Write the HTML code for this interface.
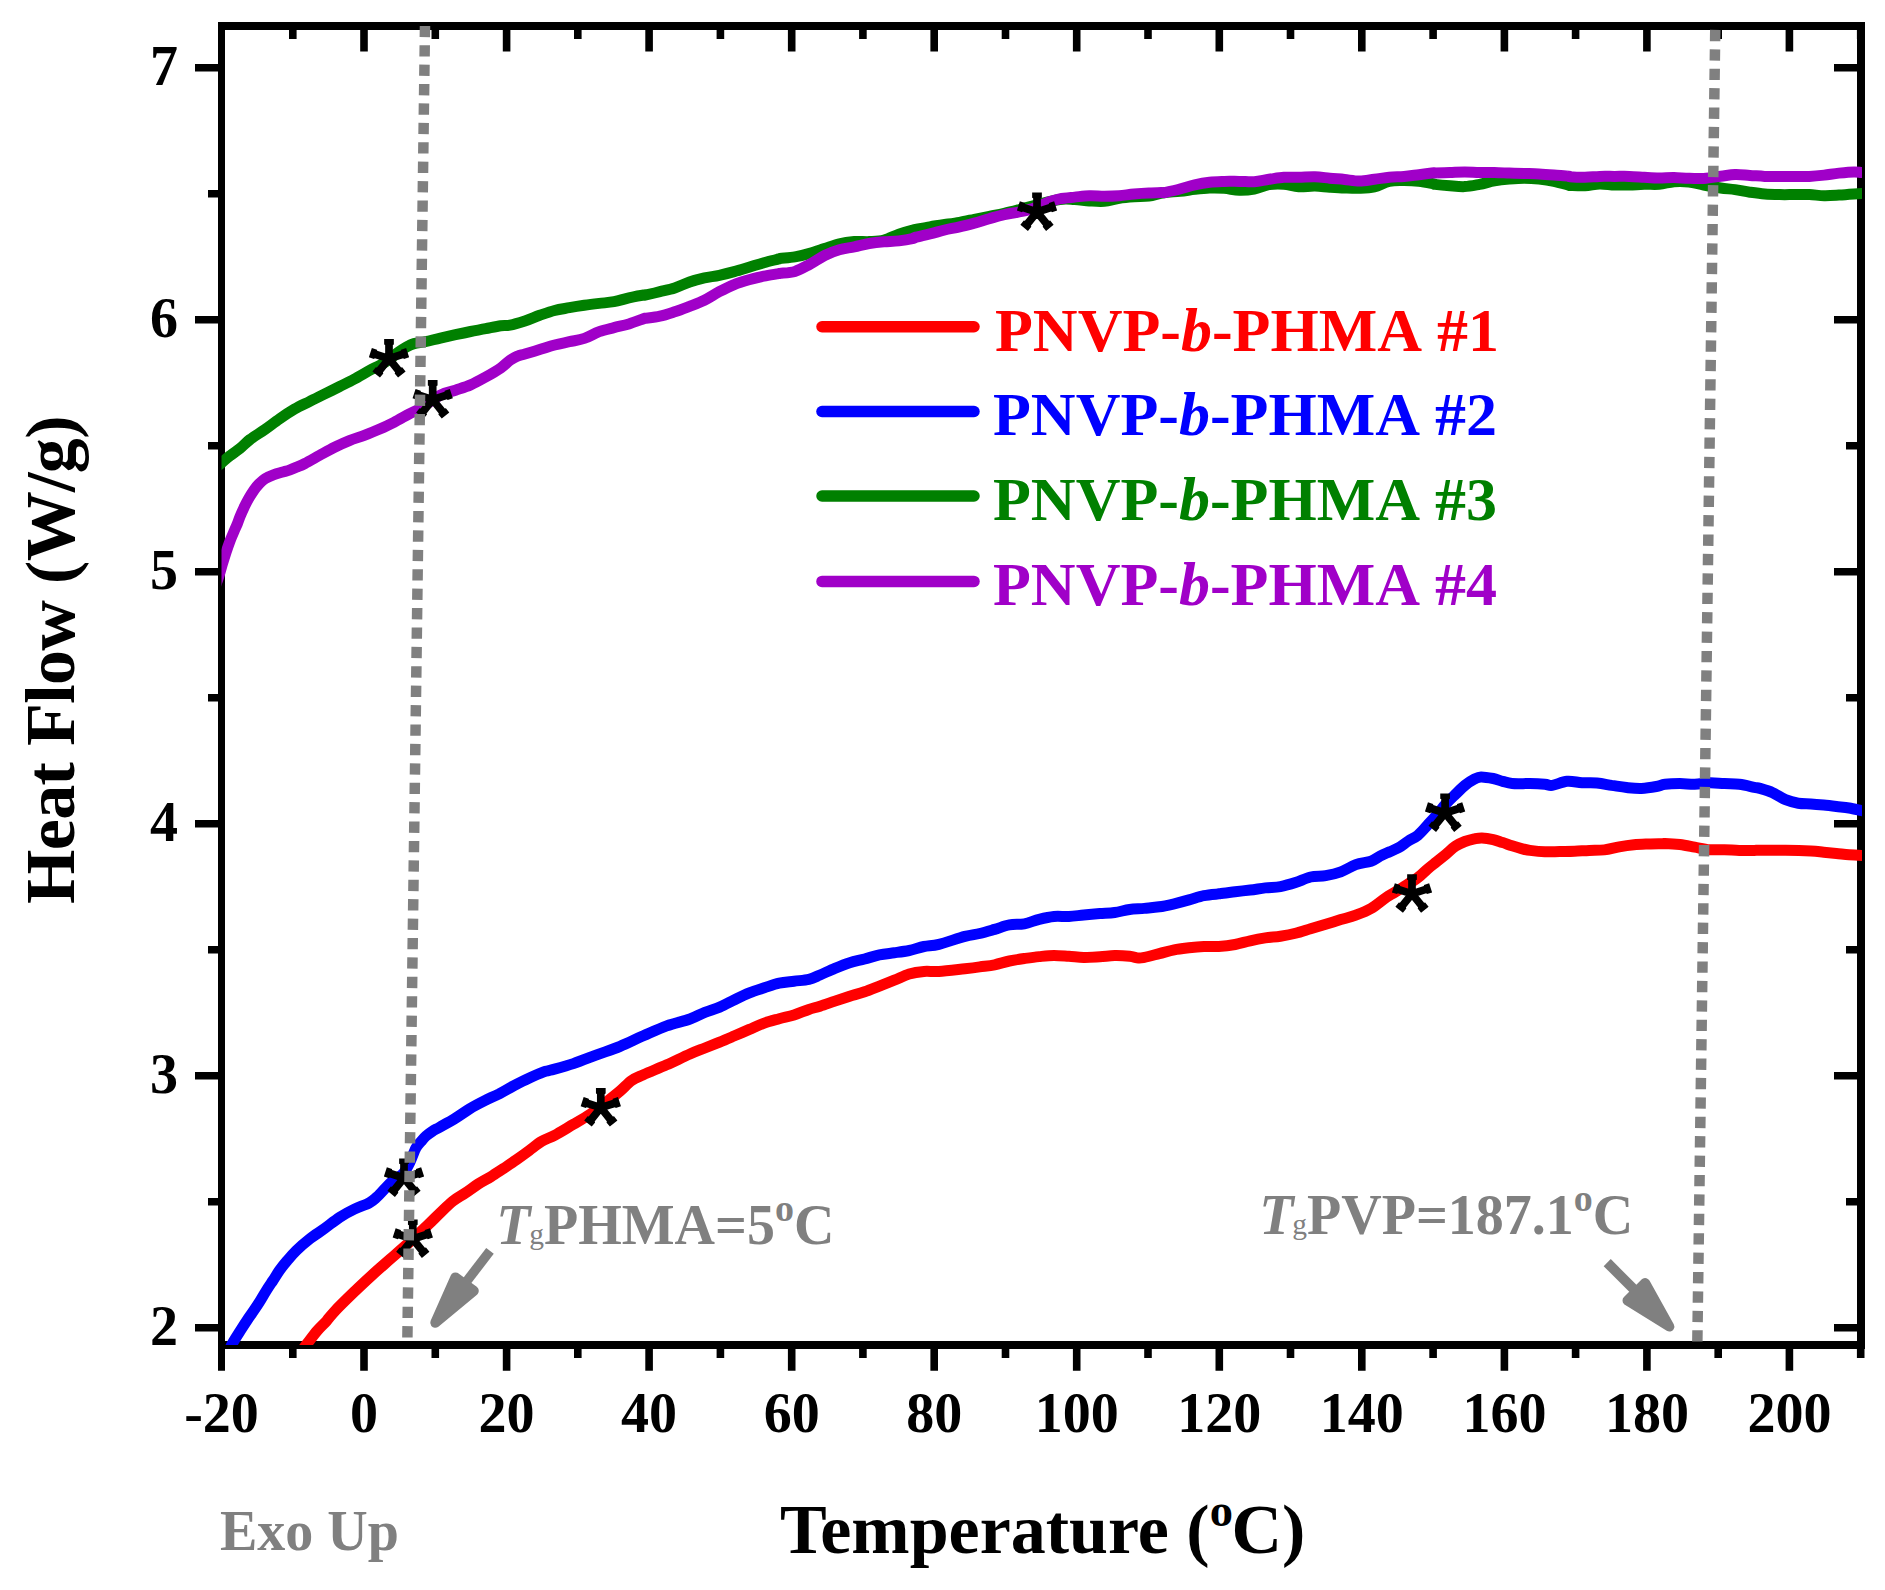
<!DOCTYPE html>
<html><head><meta charset="utf-8"><title>DSC Heat Flow</title>
<style>html,body{margin:0;padding:0;background:#fff;overflow:hidden}svg{display:block}</style>
</head><body>
<svg xmlns="http://www.w3.org/2000/svg" width="1885" height="1590" viewBox="0 0 1885 1590">
<rect width="1885" height="1590" fill="#fff"/>
<defs><clipPath id="pc"><rect x="221.5" y="26" width="1640.5" height="1319"/></clipPath></defs>
<path d="M292.8 1349 V1358.0 M292.8 30 V39.0 M364.0 1349 V1370.7 M364.0 30 V51.6 M435.3 1349 V1358.0 M435.3 30 V39.0 M506.6 1349 V1370.7 M506.6 30 V51.6 M577.8 1349 V1358.0 M577.8 30 V39.0 M649.1 1349 V1370.7 M649.1 30 V51.6 M720.4 1349 V1358.0 M720.4 30 V39.0 M791.7 1349 V1370.7 M791.7 30 V51.6 M862.9 1349 V1358.0 M862.9 30 V39.0 M934.2 1349 V1370.7 M934.2 30 V51.6 M1005.5 1349 V1358.0 M1005.5 30 V39.0 M1076.7 1349 V1370.7 M1076.7 30 V51.6 M1148.0 1349 V1358.0 M1148.0 30 V39.0 M1219.3 1349 V1370.7 M1219.3 30 V51.6 M1290.5 1349 V1358.0 M1290.5 30 V39.0 M1361.8 1349 V1370.7 M1361.8 30 V51.6 M1433.1 1349 V1358.0 M1433.1 30 V39.0 M1504.4 1349 V1370.7 M1504.4 30 V51.6 M1575.6 1349 V1358.0 M1575.6 30 V39.0 M1646.9 1349 V1370.7 M1646.9 30 V51.6 M1718.2 1349 V1358.0 M1718.2 30 V39.0 M1789.4 1349 V1370.7 M1789.4 30 V51.6 M1860.7 1349 V1358.0 M1860.7 30 V39.0 M218.0 1327.8 H195.0 M1857 1327.8 H1834.0 M218.0 1201.8 H208.0 M1857 1201.8 H1846.0 M218.0 1075.8 H195.0 M1857 1075.8 H1834.0 M218.0 949.8 H208.0 M1857 949.8 H1846.0 M218.0 823.8 H195.0 M1857 823.8 H1834.0 M218.0 697.8 H208.0 M1857 697.8 H1846.0 M218.0 571.8 H195.0 M1857 571.8 H1834.0 M218.0 445.8 H208.0 M1857 445.8 H1846.0 M218.0 319.8 H195.0 M1857 319.8 H1834.0 M218.0 193.8 H208.0 M1857 193.8 H1846.0 M218.0 67.8 H195.0 M1857 67.8 H1834.0" stroke="#000" stroke-width="7.6" fill="none"/>
<path d="M221.5 22 V1370.7" stroke="#000" stroke-width="7"/>
<path d="M1861 22 V1349" stroke="#000" stroke-width="8"/>
<path d="M218 26 H1865 M218 1345 H1865" stroke="#000" stroke-width="8"/>
<g clip-path="url(#pc)">
<path d="M297.5 1356.0 C298.9 1354.2 302.8 1349.2 306.1 1345.0 C309.4 1340.8 313.7 1334.9 317.1 1330.9 C320.5 1326.9 323.7 1324.2 326.7 1320.8 C329.7 1317.4 330.5 1315.7 335.2 1310.7 C339.9 1305.7 349.0 1296.9 355.1 1291.0 C361.2 1285.1 366.3 1280.4 372.1 1275.1 C377.9 1269.8 384.1 1264.5 390.1 1259.2 C396.2 1253.9 402.2 1248.8 408.4 1243.2 C414.6 1237.6 422.0 1230.5 427.3 1225.5 C432.6 1220.5 435.9 1217.0 440.1 1213.0 C444.3 1209.0 448.5 1204.5 452.7 1201.2 C456.9 1197.9 461.2 1195.8 465.5 1192.9 C469.8 1190.0 474.0 1186.7 478.2 1184.0 C482.4 1181.3 486.6 1179.3 490.9 1176.7 C495.1 1174.1 499.4 1171.2 503.7 1168.4 C507.9 1165.6 512.2 1162.8 516.4 1159.8 C520.6 1156.8 524.9 1153.7 529.1 1150.6 C533.3 1147.5 537.5 1143.8 541.8 1141.3 C546.0 1138.8 549.3 1138.1 554.6 1135.3 C559.9 1132.5 567.4 1127.8 573.4 1124.3 C579.4 1120.8 585.0 1117.7 590.5 1114.0 C596.0 1110.3 601.5 1105.8 606.4 1102.0 C611.3 1098.2 615.9 1094.6 620.1 1091.0 C624.3 1087.4 627.8 1083.2 631.7 1080.5 C635.6 1077.8 637.6 1077.3 643.4 1074.7 C649.2 1072.1 658.9 1068.2 666.7 1064.8 C674.5 1061.3 683.6 1056.8 690.0 1054.0 C696.4 1051.2 699.9 1050.0 704.9 1048.0 C709.9 1046.0 714.8 1044.1 719.7 1042.1 C724.7 1040.1 729.7 1037.9 734.6 1035.8 C739.5 1033.7 744.5 1031.5 749.4 1029.4 C754.3 1027.3 759.3 1024.9 764.3 1023.1 C769.3 1021.3 774.2 1020.1 779.2 1018.7 C784.2 1017.3 789.0 1016.5 794.0 1014.9 C799.0 1013.3 804.6 1010.8 808.9 1009.4 C813.2 1008.0 815.7 1007.6 820.0 1006.2 C824.3 1004.8 829.9 1002.8 834.9 1001.1 C839.9 999.4 844.8 997.8 849.7 996.2 C854.7 994.7 859.7 993.5 864.6 991.8 C869.5 990.1 874.5 988.0 879.4 986.1 C884.3 984.2 889.3 982.2 894.3 980.2 C899.3 978.2 904.2 975.4 909.2 973.9 C914.2 972.4 919.0 971.8 924.0 971.4 C929.0 971.0 932.1 971.8 938.9 971.4 C945.7 971.0 958.1 969.5 964.9 968.8 C971.7 968.0 974.8 967.6 979.7 966.9 C984.7 966.2 989.7 965.8 994.6 964.8 C999.5 963.8 1004.5 962.0 1009.4 961.0 C1014.3 960.0 1019.3 959.2 1024.3 958.5 C1029.3 957.8 1034.2 957.1 1039.2 956.6 C1044.2 956.1 1049.0 955.5 1054.0 955.5 C1059.0 955.5 1064.0 956.0 1068.9 956.3 C1073.9 956.6 1078.5 957.3 1083.7 957.4 C1088.9 957.5 1094.7 957.0 1099.9 956.7 C1105.1 956.4 1109.8 955.7 1114.7 955.6 C1119.7 955.5 1125.6 955.9 1129.6 956.3 C1133.6 956.7 1136.0 957.8 1138.5 958.0 C1141.0 958.2 1140.9 958.1 1144.4 957.4 C1147.9 956.7 1154.3 954.9 1159.3 953.6 C1164.3 952.4 1169.2 950.9 1174.2 949.9 C1179.2 948.9 1184.0 948.4 1189.0 947.8 C1194.0 947.2 1199.0 946.7 1203.9 946.5 C1208.9 946.3 1213.5 946.8 1218.7 946.5 C1223.9 946.2 1229.8 945.5 1235.1 944.5 C1240.3 943.5 1245.2 941.9 1250.2 940.8 C1255.2 939.7 1260.3 938.7 1265.3 937.9 C1270.3 937.1 1275.4 937.0 1280.4 936.2 C1285.4 935.4 1290.5 934.5 1295.5 933.2 C1300.5 932.0 1305.6 930.2 1310.6 928.7 C1315.6 927.2 1320.7 925.7 1325.7 924.2 C1330.7 922.7 1335.8 921.1 1340.8 919.6 C1345.8 918.1 1350.8 917.0 1355.8 915.1 C1360.8 913.2 1365.8 911.4 1371.0 908.4 C1376.2 905.4 1381.6 900.5 1386.9 897.0 C1392.2 893.5 1397.7 890.6 1402.8 887.4 C1407.9 884.2 1413.6 880.8 1417.7 877.8 C1421.8 874.8 1424.1 872.0 1427.2 869.3 C1430.3 866.6 1433.5 864.3 1436.6 861.8 C1439.7 859.3 1442.8 856.8 1446.0 854.2 C1449.2 851.6 1452.3 848.3 1455.5 846.2 C1458.7 844.1 1461.8 842.7 1464.9 841.5 C1468.0 840.3 1471.5 839.5 1474.3 838.9 C1477.1 838.3 1478.8 837.8 1481.9 837.9 C1485.1 838.0 1489.8 838.8 1493.2 839.6 C1496.7 840.4 1499.4 841.6 1502.6 842.6 C1505.8 843.6 1508.9 844.8 1512.1 845.8 C1515.2 846.8 1518.5 847.8 1521.5 848.6 C1524.5 849.4 1526.1 849.9 1530.0 850.4 C1533.9 850.9 1540.0 851.6 1544.9 851.8 C1549.9 852.0 1554.8 851.6 1559.7 851.5 C1564.7 851.4 1569.6 851.4 1574.6 851.2 C1579.5 851.0 1584.5 850.6 1589.4 850.4 C1594.4 850.2 1599.3 850.5 1604.3 849.9 C1609.3 849.3 1614.2 847.8 1619.2 846.9 C1624.2 846.0 1629.0 845.3 1634.0 844.8 C1639.0 844.3 1644.0 844.2 1648.9 844.0 C1653.9 843.8 1661.0 843.8 1663.7 843.7 C1666.4 843.6 1662.3 843.3 1665.0 843.4 C1667.7 843.5 1675.0 843.9 1679.9 844.5 C1684.9 845.1 1689.8 846.2 1694.7 847.1 C1699.7 848.0 1704.6 849.3 1709.6 849.7 C1714.5 850.1 1719.5 849.6 1724.4 849.7 C1729.4 849.8 1734.3 850.3 1739.3 850.4 C1744.3 850.5 1750.8 850.4 1754.2 850.4 C1757.7 850.4 1754.8 850.3 1760.0 850.3 C1765.2 850.3 1777.0 850.2 1785.5 850.3 C1794.0 850.4 1804.5 850.7 1810.9 851.0 C1817.3 851.3 1819.5 851.8 1823.7 852.2 C1828.0 852.6 1832.2 853.1 1836.4 853.5 C1840.6 853.9 1844.9 854.5 1849.1 854.8 C1853.3 855.1 1858.8 855.3 1861.8 855.4 C1864.8 855.5 1866.1 855.6 1867.0 855.6" fill="none" stroke="#FF0000" stroke-width="11" stroke-linejoin="round"/>
<path d="M224.0 1362.0 C225.3 1359.2 228.9 1350.2 231.6 1345.0 C234.3 1339.8 237.7 1334.9 240.2 1330.9 C242.7 1326.9 244.4 1324.2 246.7 1320.8 C248.9 1317.4 251.4 1314.0 253.7 1310.7 C256.0 1307.4 258.2 1304.1 260.3 1300.7 C262.4 1297.3 264.2 1293.9 266.3 1290.6 C268.4 1287.2 270.7 1283.9 272.9 1280.6 C275.1 1277.2 277.0 1273.9 279.4 1270.5 C281.8 1267.1 284.5 1263.8 287.4 1260.4 C290.2 1257.1 292.8 1254.0 296.5 1250.4 C300.2 1246.8 305.2 1242.5 309.9 1238.8 C314.6 1235.1 319.8 1232.0 324.7 1228.4 C329.6 1224.8 334.7 1220.5 339.6 1217.3 C344.6 1214.1 349.4 1211.5 354.4 1209.1 C359.3 1206.7 365.6 1204.8 369.3 1202.8 C373.0 1200.8 374.2 1199.4 376.7 1197.2 C379.2 1195.0 381.7 1191.9 384.2 1189.4 C386.7 1186.9 389.3 1184.0 391.6 1182.0 C393.9 1180.0 395.9 1179.1 398.0 1177.5 C400.1 1175.9 402.0 1175.1 404.0 1172.5 C406.0 1169.9 408.0 1166.1 410.0 1162.0 C412.0 1157.9 414.1 1151.4 415.9 1148.0 C417.7 1144.6 419.3 1143.5 421.0 1141.5 C422.7 1139.5 424.1 1137.7 426.0 1136.0 C427.9 1134.3 430.0 1132.8 432.3 1131.3 C434.6 1129.8 436.0 1129.3 439.7 1127.2 C443.4 1125.1 449.7 1121.7 454.6 1118.7 C459.6 1115.7 464.4 1112.0 469.4 1109.0 C474.3 1106.0 479.3 1103.4 484.3 1100.9 C489.3 1098.4 494.2 1096.3 499.2 1093.8 C504.1 1091.2 509.1 1088.2 514.0 1085.6 C519.0 1083.0 523.9 1080.5 528.9 1078.2 C533.9 1075.9 540.2 1073.2 543.7 1071.9 C547.2 1070.6 545.0 1071.7 550.0 1070.3 C555.0 1068.9 565.6 1066.2 573.4 1063.6 C581.2 1061.0 588.9 1057.8 596.7 1054.9 C604.5 1052.0 612.3 1049.5 620.1 1046.3 C627.9 1043.1 635.6 1039.2 643.4 1035.8 C651.2 1032.4 658.9 1028.7 666.7 1025.9 C674.5 1023.1 683.6 1021.3 690.0 1019.0 C696.4 1016.7 699.9 1014.3 704.9 1012.3 C709.9 1010.3 714.8 1009.2 719.7 1007.1 C724.7 1005.0 729.7 1002.1 734.6 999.7 C739.5 997.3 744.5 994.8 749.4 992.8 C754.3 990.8 759.3 989.4 764.3 987.8 C769.3 986.2 774.2 984.3 779.2 983.2 C784.2 982.1 789.0 981.9 794.0 981.3 C799.0 980.6 804.6 980.3 808.9 979.3 C813.2 978.2 815.7 976.8 820.0 975.0 C824.3 973.2 829.9 970.3 834.9 968.3 C839.9 966.2 844.8 964.2 849.7 962.7 C854.7 961.2 859.7 960.3 864.6 959.0 C869.5 957.7 874.5 955.9 879.4 954.9 C884.3 953.9 889.3 953.5 894.3 952.8 C899.3 952.1 904.2 951.5 909.2 950.5 C914.2 949.5 919.0 947.5 924.0 946.5 C929.0 945.5 932.1 946.0 938.9 944.3 C945.7 942.6 958.1 938.2 964.9 936.4 C971.7 934.6 974.8 934.7 979.7 933.5 C984.7 932.3 989.7 930.8 994.6 929.4 C999.5 928.0 1004.5 925.8 1009.4 924.9 C1014.3 924.0 1019.3 924.7 1024.3 923.8 C1029.3 922.9 1034.2 920.5 1039.2 919.3 C1044.2 918.1 1049.0 917.0 1054.0 916.5 C1059.0 916.0 1064.0 916.8 1068.9 916.5 C1073.9 916.2 1078.5 915.5 1083.7 915.0 C1088.9 914.5 1094.7 914.0 1099.9 913.6 C1105.1 913.2 1109.8 913.2 1114.7 912.5 C1119.7 911.8 1124.6 910.2 1129.6 909.5 C1134.5 908.8 1139.5 908.9 1144.4 908.4 C1149.4 907.9 1154.3 907.6 1159.3 906.8 C1164.3 906.0 1169.2 904.9 1174.2 903.8 C1179.2 902.6 1184.0 901.3 1189.0 899.9 C1194.0 898.5 1199.0 896.6 1203.9 895.6 C1208.9 894.6 1216.0 894.2 1218.7 893.9 C1221.4 893.6 1217.3 894.0 1220.0 893.6 C1222.7 893.2 1230.1 892.4 1235.1 891.8 C1240.1 891.2 1245.2 890.6 1250.2 890.0 C1255.2 889.4 1260.3 888.5 1265.3 887.9 C1270.3 887.3 1275.4 887.5 1280.4 886.6 C1285.4 885.7 1290.5 884.2 1295.5 882.6 C1300.5 881.0 1305.6 878.2 1310.6 877.0 C1315.6 875.8 1320.7 876.5 1325.7 875.6 C1330.7 874.7 1335.8 873.6 1340.8 871.8 C1345.8 870.0 1350.8 866.5 1355.8 864.7 C1360.8 862.9 1367.0 862.6 1371.0 861.2 C1375.0 859.8 1376.9 857.7 1380.0 856.1 C1383.1 854.5 1386.2 853.3 1389.4 851.9 C1392.6 850.5 1395.8 849.4 1398.9 847.6 C1402.1 845.8 1405.2 843.0 1408.3 841.0 C1411.4 839.0 1414.5 838.0 1417.7 835.4 C1420.9 832.8 1424.1 828.9 1427.2 825.5 C1430.3 822.1 1433.5 818.7 1436.6 815.1 C1439.7 811.5 1442.8 807.3 1446.0 803.8 C1449.2 800.3 1452.3 797.4 1455.5 794.3 C1458.7 791.2 1461.8 787.9 1464.9 785.4 C1468.0 782.9 1471.6 780.6 1474.3 779.2 C1477.0 777.8 1477.8 777.0 1481.0 776.9 C1484.2 776.8 1489.6 777.8 1493.2 778.5 C1496.8 779.2 1499.4 780.5 1502.6 781.3 C1505.8 782.1 1507.5 783.1 1512.1 783.5 C1516.7 783.9 1524.5 783.5 1530.0 783.6 C1535.5 783.7 1541.2 784.0 1544.9 784.3 C1548.6 784.6 1548.6 785.9 1552.3 785.4 C1556.0 784.9 1562.1 781.8 1567.1 781.3 C1572.0 780.8 1577.0 782.4 1582.0 782.7 C1587.0 783.0 1592.0 782.5 1596.9 783.0 C1601.9 783.5 1606.8 784.6 1611.7 785.4 C1616.7 786.1 1621.6 787.0 1626.6 787.5 C1631.5 788.0 1636.5 788.6 1641.4 788.4 C1646.4 788.2 1652.4 787.2 1656.3 786.5 C1660.2 785.8 1661.1 784.8 1665.0 784.3 C1668.9 783.8 1675.0 783.6 1679.9 783.6 C1684.9 783.6 1689.8 784.4 1694.7 784.3 C1699.7 784.2 1704.6 782.9 1709.6 782.8 C1714.5 782.7 1719.5 783.4 1724.4 783.6 C1729.4 783.9 1734.3 783.7 1739.3 784.3 C1744.3 784.9 1750.8 786.6 1754.2 787.3 C1757.7 788.0 1756.9 787.5 1760.0 788.4 C1763.1 789.3 1768.5 790.8 1772.7 792.7 C1777.0 794.6 1781.2 798.0 1785.5 799.7 C1789.8 801.5 1794.0 802.5 1798.2 803.2 C1802.4 803.9 1806.7 803.7 1810.9 804.0 C1815.2 804.3 1819.5 804.7 1823.7 805.1 C1828.0 805.5 1832.2 806.0 1836.4 806.5 C1840.6 807.0 1844.9 807.3 1849.1 808.0 C1853.3 808.7 1858.8 810.0 1861.8 810.6 C1864.8 811.2 1866.1 811.4 1867.0 811.5" fill="none" stroke="#0000FF" stroke-width="11" stroke-linejoin="round"/>
<path d="M215.0 468.0 C216.1 467.2 218.8 465.1 221.3 463.0 C223.8 460.9 226.9 458.1 230.1 455.7 C233.2 453.2 236.9 451.0 240.2 448.3 C243.5 445.6 245.9 442.6 250.0 439.5 C254.1 436.4 259.9 433.0 264.9 429.5 C269.8 426.0 274.8 422.1 279.7 418.7 C284.6 415.3 289.7 412.0 294.6 409.1 C299.6 406.2 304.4 404.1 309.4 401.6 C314.3 399.1 319.3 396.7 324.3 394.2 C329.3 391.7 334.2 389.3 339.2 386.8 C344.1 384.3 349.1 382.0 354.0 379.3 C358.9 376.6 364.6 373.2 368.9 370.8 C373.2 368.4 376.5 367.2 380.0 365.2 C383.5 363.2 387.0 361.1 390.0 359.0 C393.0 356.9 395.3 354.5 398.0 352.5 C400.7 350.5 403.7 348.5 406.4 347.0 C409.1 345.5 410.9 344.5 414.0 343.6 C417.1 342.7 420.9 342.5 425.3 341.6 C429.7 340.7 435.4 339.2 440.4 338.1 C445.4 337.0 450.5 335.8 455.5 334.7 C460.5 333.6 465.6 332.5 470.6 331.5 C475.6 330.5 480.7 329.7 485.7 328.7 C490.7 327.7 496.8 326.3 500.8 325.7 C504.9 325.1 506.0 325.9 510.0 325.1 C514.0 324.3 519.9 322.5 524.9 320.9 C529.9 319.3 534.8 317.0 539.7 315.3 C544.7 313.6 549.7 311.8 554.6 310.5 C559.5 309.2 564.5 308.6 569.4 307.7 C574.3 306.8 579.3 306.0 584.3 305.3 C589.3 304.6 594.2 304.0 599.2 303.4 C604.2 302.8 609.0 302.6 614.0 301.7 C619.0 300.8 623.9 299.0 628.9 297.9 C633.9 296.8 641.0 295.4 643.7 295.0 C646.4 294.6 642.3 295.8 645.0 295.2 C647.7 294.6 654.9 292.9 659.9 291.7 C664.9 290.5 669.8 289.6 674.7 288.0 C679.7 286.4 684.7 283.7 689.6 282.0 C694.5 280.3 699.5 279.0 704.4 277.9 C709.3 276.8 714.3 276.4 719.3 275.3 C724.3 274.2 729.2 273.0 734.2 271.6 C739.2 270.2 744.0 268.7 749.0 267.2 C754.0 265.7 758.9 264.1 763.9 262.7 C768.9 261.3 776.0 259.7 778.7 259.0 C781.4 258.3 777.3 258.9 780.0 258.5 C782.7 258.1 789.9 257.8 794.9 256.9 C799.9 256.0 804.8 254.8 809.7 253.4 C814.7 252.0 819.7 250.2 824.6 248.6 C829.5 247.0 834.5 245.0 839.4 243.8 C844.3 242.6 849.3 242.0 854.3 241.6 C859.3 241.2 864.2 241.8 869.2 241.6 C874.2 241.3 879.0 241.3 884.0 240.1 C889.0 238.8 893.9 235.8 898.9 234.1 C903.9 232.4 911.0 230.4 913.7 229.7 C916.4 229.0 912.3 230.2 915.0 229.7 C917.7 229.2 924.9 227.7 929.9 226.8 C934.9 225.9 939.8 225.2 944.7 224.5 C949.7 223.8 954.7 223.2 959.6 222.3 C964.5 221.4 969.5 220.3 974.4 219.3 C979.3 218.3 984.3 217.4 989.3 216.4 C994.3 215.4 999.2 214.5 1004.2 213.4 C1009.2 212.3 1013.7 211.1 1019.0 209.7 C1024.3 208.3 1029.2 206.7 1036.0 205.0 C1042.8 203.3 1053.3 200.4 1059.7 199.5 C1066.1 198.6 1069.6 199.3 1074.6 199.5 C1079.5 199.7 1084.5 200.6 1089.4 200.9 C1094.4 201.2 1099.3 201.7 1104.3 201.3 C1109.3 200.9 1114.2 199.1 1119.2 198.3 C1124.2 197.6 1129.0 197.2 1134.0 196.8 C1139.0 196.4 1144.0 196.8 1148.9 196.1 C1153.9 195.4 1158.5 193.6 1163.7 192.8 C1168.9 192.0 1174.7 191.9 1179.9 191.3 C1185.1 190.7 1189.8 190.0 1194.7 189.4 C1199.7 188.8 1204.6 188.2 1209.6 188.0 C1214.5 187.8 1219.5 187.9 1224.4 188.3 C1229.4 188.7 1234.3 190.1 1239.3 190.2 C1244.3 190.3 1249.2 190.0 1254.2 189.1 C1259.2 188.2 1264.0 185.4 1269.0 184.6 C1274.0 183.8 1279.0 183.8 1283.9 184.2 C1288.9 184.6 1293.5 186.5 1298.7 186.8 C1303.9 187.1 1309.7 186.0 1314.9 186.1 C1320.1 186.2 1324.8 186.9 1329.7 187.2 C1334.7 187.5 1339.6 187.8 1344.6 188.0 C1349.5 188.2 1354.5 188.5 1359.4 188.3 C1364.4 188.1 1369.3 188.0 1374.3 186.8 C1379.3 185.6 1384.2 182.4 1389.2 181.3 C1394.2 180.2 1399.0 180.5 1404.0 180.5 C1409.0 180.5 1414.0 180.7 1418.9 181.3 C1423.9 181.9 1431.0 183.4 1433.7 183.9 C1436.4 184.4 1432.3 184.1 1435.0 184.4 C1437.7 184.7 1445.0 185.4 1449.9 185.8 C1454.9 186.2 1459.8 186.8 1464.7 186.6 C1469.7 186.4 1474.6 185.3 1479.6 184.4 C1484.5 183.5 1489.5 181.8 1494.4 180.9 C1499.4 180.0 1504.3 179.5 1509.3 179.1 C1514.3 178.7 1519.2 178.3 1524.2 178.3 C1529.2 178.3 1534.0 178.6 1539.0 179.1 C1544.0 179.6 1549.0 180.3 1553.9 181.3 C1558.9 182.3 1566.0 184.3 1568.7 185.0 C1571.4 185.7 1567.3 185.3 1570.0 185.4 C1572.7 185.5 1580.0 186.1 1584.9 185.8 C1589.9 185.6 1594.8 184.0 1599.7 183.9 C1604.7 183.8 1609.6 184.8 1614.6 185.0 C1619.5 185.2 1624.5 185.1 1629.4 185.0 C1634.4 184.9 1639.3 184.4 1644.3 184.3 C1649.3 184.2 1654.2 184.7 1659.2 184.3 C1664.2 183.9 1669.0 182.1 1674.0 181.7 C1679.0 181.3 1684.0 181.4 1688.9 182.0 C1693.9 182.6 1698.4 184.0 1703.7 185.0 C1709.0 186.0 1715.5 187.2 1720.7 188.0 C1725.9 188.8 1730.1 188.9 1735.0 189.6 C1739.9 190.3 1745.0 191.5 1749.9 192.2 C1754.9 192.9 1759.8 193.6 1764.7 194.0 C1769.7 194.4 1774.6 194.5 1779.6 194.6 C1784.5 194.7 1789.5 194.6 1794.4 194.6 C1799.4 194.6 1804.3 194.4 1809.3 194.6 C1814.3 194.8 1819.2 195.6 1824.2 195.7 C1829.2 195.8 1834.0 195.4 1839.0 195.1 C1844.0 194.8 1850.2 194.3 1853.9 194.0 C1857.6 193.7 1859.1 193.6 1861.3 193.5 C1863.5 193.4 1866.0 193.3 1867.0 193.3" fill="none" stroke="#008000" stroke-width="11" stroke-linejoin="round"/>
<path d="M214.0 590.0 C214.8 587.7 217.5 580.5 218.8 576.4 C220.1 572.3 220.8 569.5 222.0 565.5 C223.2 561.5 224.6 556.7 226.0 552.5 C227.4 548.3 228.8 544.2 230.2 540.5 C231.6 536.8 233.4 532.9 234.6 530.0 C235.8 527.1 236.7 525.4 237.6 523.2 C238.5 521.0 238.9 519.2 240.0 516.6 C241.1 514.0 242.5 510.7 243.9 507.8 C245.3 504.9 246.7 501.9 248.4 499.0 C250.1 496.1 252.2 492.6 253.9 490.2 C255.6 487.8 256.6 486.4 258.5 484.5 C260.4 482.6 262.6 480.2 265.2 478.6 C267.8 477.0 271.1 475.7 274.0 474.6 C276.9 473.5 280.1 472.8 282.8 472.0 C285.5 471.2 287.6 470.7 290.0 469.8 C292.4 468.9 295.0 467.9 297.5 466.8 C300.0 465.8 301.2 465.4 304.9 463.5 C308.6 461.6 314.8 458.0 319.7 455.3 C324.6 452.6 329.7 449.6 334.6 447.2 C339.6 444.8 344.4 442.6 349.4 440.6 C354.3 438.6 359.3 437.2 364.3 435.3 C369.3 433.4 374.2 431.5 379.2 429.3 C384.1 427.1 389.1 424.8 394.0 422.3 C398.9 419.8 404.6 416.4 408.9 414.1 C413.2 411.8 414.8 411.7 420.0 408.5 C425.2 405.3 434.5 398.2 440.4 395.1 C446.3 392.1 450.5 391.9 455.5 390.2 C460.5 388.5 465.6 387.1 470.6 384.9 C475.6 382.7 480.7 379.8 485.7 377.0 C490.7 374.2 496.8 370.7 500.8 367.9 C504.9 365.1 507.2 362.2 510.0 360.3 C512.8 358.4 514.9 357.2 517.4 356.2 C519.9 355.1 521.2 355.1 524.9 354.0 C528.6 352.9 534.8 351.1 539.7 349.6 C544.7 348.1 549.7 346.3 554.6 345.0 C559.5 343.7 564.5 342.8 569.4 341.7 C574.3 340.6 579.3 340.1 584.3 338.4 C589.3 336.7 594.2 333.5 599.2 331.7 C604.2 329.9 609.0 328.9 614.0 327.6 C619.0 326.3 623.9 325.4 628.9 323.9 C633.9 322.4 641.0 319.6 643.7 318.7 C646.4 317.8 642.3 318.8 645.0 318.4 C647.7 318.0 654.9 317.3 659.9 316.2 C664.9 315.1 669.8 313.4 674.7 311.8 C679.7 310.2 684.7 308.2 689.6 306.3 C694.5 304.4 699.5 302.6 704.4 300.2 C709.3 297.8 714.3 294.3 719.3 291.7 C724.3 289.1 729.2 286.6 734.2 284.6 C739.2 282.6 744.0 281.2 749.0 279.8 C754.0 278.4 758.9 277.1 763.9 276.1 C768.9 275.1 776.0 274.1 778.7 273.6 C781.4 273.2 777.3 273.8 780.0 273.4 C782.7 273.0 789.9 272.9 794.9 271.4 C799.9 269.9 804.8 266.9 809.7 264.3 C814.7 261.7 819.7 257.9 824.6 255.5 C829.5 253.1 834.5 251.2 839.4 249.8 C844.3 248.4 849.3 247.9 854.3 246.8 C859.3 245.8 864.2 244.3 869.2 243.5 C874.2 242.7 879.0 242.2 884.0 241.8 C889.0 241.4 893.9 241.5 898.9 240.9 C903.9 240.3 911.0 238.9 913.7 238.3 C916.4 237.7 912.3 238.1 915.0 237.4 C917.7 236.7 924.9 235.1 929.9 233.9 C934.9 232.7 939.8 231.2 944.7 230.0 C949.7 228.8 954.7 228.0 959.6 226.8 C964.5 225.7 969.5 224.4 974.4 223.1 C979.3 221.8 984.3 220.1 989.3 218.7 C994.3 217.3 999.2 215.7 1004.2 214.6 C1009.2 213.5 1014.0 213.1 1019.0 212.0 C1024.0 210.9 1029.0 210.0 1033.9 208.3 C1038.9 206.6 1044.4 203.5 1048.7 201.9 C1053.0 200.3 1055.4 199.6 1059.7 198.8 C1064.0 198.0 1069.6 197.6 1074.6 197.1 C1079.5 196.6 1084.5 195.8 1089.4 195.7 C1094.4 195.5 1099.3 196.2 1104.3 196.2 C1109.3 196.2 1114.2 196.1 1119.2 195.7 C1124.2 195.3 1129.0 194.4 1134.0 194.0 C1139.0 193.6 1144.0 193.3 1148.9 193.1 C1153.9 192.8 1161.0 192.6 1163.7 192.5 C1166.4 192.4 1162.3 193.1 1165.0 192.5 C1167.7 191.9 1175.0 190.3 1179.9 189.0 C1184.9 187.7 1189.8 186.0 1194.7 184.9 C1199.7 183.8 1204.6 182.9 1209.6 182.3 C1214.5 181.7 1219.5 181.6 1224.4 181.4 C1229.4 181.2 1234.3 181.4 1239.3 181.4 C1244.3 181.4 1249.2 182.0 1254.2 181.7 C1259.2 181.3 1264.0 180.0 1269.0 179.3 C1274.0 178.6 1279.0 177.6 1283.9 177.3 C1288.9 177.0 1293.5 177.4 1298.7 177.3 C1303.9 177.2 1309.7 176.5 1314.9 176.7 C1320.1 176.8 1324.8 177.7 1329.7 178.2 C1334.7 178.7 1339.6 179.0 1344.6 179.5 C1349.5 180.0 1354.5 181.0 1359.4 181.0 C1364.4 181.0 1369.3 179.9 1374.3 179.3 C1379.3 178.7 1384.2 177.8 1389.2 177.3 C1394.2 176.8 1399.0 176.9 1404.0 176.5 C1409.0 176.1 1414.0 175.3 1418.9 174.7 C1423.9 174.1 1431.0 173.1 1433.7 172.8 C1436.4 172.5 1432.3 173.2 1435.0 173.1 C1437.7 173.0 1445.0 172.7 1449.9 172.5 C1454.9 172.3 1459.8 171.9 1464.7 171.9 C1469.7 171.9 1474.6 172.4 1479.6 172.5 C1484.5 172.6 1489.5 172.4 1494.4 172.5 C1499.4 172.6 1504.3 172.9 1509.3 173.1 C1514.3 173.2 1519.2 173.2 1524.2 173.4 C1529.2 173.6 1534.0 173.7 1539.0 174.0 C1544.0 174.3 1549.0 174.7 1553.9 175.1 C1558.9 175.5 1566.0 175.9 1568.7 176.2 C1571.4 176.5 1567.3 176.6 1570.0 176.8 C1572.7 177.0 1580.0 177.4 1584.9 177.3 C1589.9 177.2 1594.8 176.6 1599.7 176.4 C1604.7 176.2 1609.6 176.4 1614.6 176.4 C1619.5 176.4 1624.5 176.2 1629.4 176.4 C1634.4 176.6 1639.3 177.0 1644.3 177.3 C1649.3 177.6 1654.2 178.0 1659.2 178.0 C1664.2 178.0 1669.0 177.4 1674.0 177.5 C1679.0 177.6 1684.0 178.2 1688.9 178.3 C1693.9 178.5 1698.4 178.7 1703.7 178.4 C1709.0 178.1 1715.5 177.0 1720.7 176.3 C1725.9 175.7 1730.1 174.7 1735.0 174.5 C1739.9 174.3 1745.0 175.1 1749.9 175.4 C1754.9 175.7 1759.8 176.2 1764.7 176.4 C1769.7 176.6 1774.6 176.6 1779.6 176.6 C1784.5 176.6 1789.5 176.6 1794.4 176.6 C1799.4 176.6 1804.3 176.7 1809.3 176.4 C1814.3 176.2 1819.2 175.7 1824.2 175.1 C1829.2 174.5 1834.0 173.6 1839.0 173.1 C1844.0 172.6 1850.2 172.0 1853.9 171.9 C1857.6 171.8 1859.1 172.3 1861.3 172.5 C1863.5 172.7 1866.0 172.8 1867.0 172.8" fill="none" stroke="#A000C8" stroke-width="11" stroke-linejoin="round"/>
<path d="M385.15 358.70 L392.85 358.70 L392.85 345.00 L393.85 344.50 L393.85 339.10 L384.15 339.10 L384.15 344.50 L385.15 345.00ZM387.81 355.04 L390.19 362.36 L403.22 358.13 L404.00 358.92 L409.14 357.26 L406.14 348.03 L401.01 349.70 L400.84 350.80ZM391.99 356.28 L386.01 361.12 L395.13 372.39 L394.67 373.41 L398.07 377.61 L405.61 371.50 L402.21 367.30 L401.12 367.55ZM391.99 361.12 L386.01 356.28 L376.88 367.55 L375.79 367.30 L372.39 371.50 L379.93 377.61 L383.33 373.41 L382.87 372.39ZM387.81 362.36 L390.19 355.04 L377.16 350.80 L376.99 349.70 L371.86 348.03 L368.86 357.26 L374.00 358.92 L374.78 358.13ZM428.85 399.70 L436.55 399.70 L436.55 386.00 L437.55 385.50 L437.55 380.10 L427.85 380.10 L427.85 385.50 L428.85 386.00ZM431.51 396.04 L433.89 403.36 L446.92 399.13 L447.70 399.92 L452.84 398.26 L449.84 389.03 L444.71 390.70 L444.54 391.80ZM435.69 397.28 L429.71 402.12 L438.83 413.39 L438.37 414.41 L441.77 418.61 L449.31 412.50 L445.91 408.30 L444.82 408.55ZM435.69 402.12 L429.71 397.28 L420.58 408.55 L419.49 408.30 L416.09 412.50 L423.63 418.61 L427.03 414.41 L426.57 413.39ZM431.51 403.36 L433.89 396.04 L420.86 391.80 L420.69 390.70 L415.56 389.03 L412.56 398.26 L417.70 399.92 L418.48 399.13ZM1033.15 212.00 L1040.85 212.00 L1040.85 198.30 L1041.85 197.80 L1041.85 192.40 L1032.15 192.40 L1032.15 197.80 L1033.15 198.30ZM1035.81 208.34 L1038.19 215.66 L1051.22 211.43 L1052.00 212.22 L1057.14 210.56 L1054.14 201.33 L1049.01 203.00 L1048.84 204.10ZM1039.99 209.58 L1034.01 214.42 L1043.13 225.69 L1042.67 226.71 L1046.07 230.91 L1053.61 224.80 L1050.21 220.60 L1049.12 220.85ZM1039.99 214.42 L1034.01 209.58 L1024.88 220.85 L1023.79 220.60 L1020.39 224.80 L1027.93 230.91 L1031.33 226.71 L1030.87 225.69ZM1035.81 215.66 L1038.19 208.34 L1025.16 204.10 L1024.99 203.00 L1019.86 201.33 L1016.86 210.56 L1022.00 212.22 L1022.78 211.43ZM400.15 1178.00 L407.85 1178.00 L407.85 1164.30 L408.85 1163.80 L408.85 1158.40 L399.15 1158.40 L399.15 1163.80 L400.15 1164.30ZM402.81 1174.34 L405.19 1181.66 L418.22 1177.43 L419.00 1178.22 L424.14 1176.56 L421.14 1167.33 L416.01 1169.00 L415.84 1170.10ZM406.99 1175.58 L401.01 1180.42 L410.13 1191.69 L409.67 1192.71 L413.07 1196.91 L420.61 1190.80 L417.21 1186.60 L416.12 1186.85ZM406.99 1180.42 L401.01 1175.58 L391.88 1186.85 L390.79 1186.60 L387.39 1190.80 L394.93 1196.91 L398.33 1192.71 L397.87 1191.69ZM402.81 1181.66 L405.19 1174.34 L392.16 1170.10 L391.99 1169.00 L386.86 1167.33 L383.86 1176.56 L389.00 1178.22 L389.78 1177.43ZM408.95 1239.00 L416.65 1239.00 L416.65 1225.30 L417.65 1224.80 L417.65 1219.40 L407.95 1219.40 L407.95 1224.80 L408.95 1225.30ZM411.61 1235.34 L413.99 1242.66 L427.02 1238.43 L427.80 1239.22 L432.94 1237.56 L429.94 1228.33 L424.81 1230.00 L424.64 1231.10ZM415.79 1236.58 L409.81 1241.42 L418.93 1252.69 L418.47 1253.71 L421.87 1257.91 L429.41 1251.80 L426.01 1247.60 L424.92 1247.85ZM415.79 1241.42 L409.81 1236.58 L400.68 1247.85 L399.59 1247.60 L396.19 1251.80 L403.73 1257.91 L407.13 1253.71 L406.67 1252.69ZM411.61 1242.66 L413.99 1235.34 L400.96 1231.10 L400.79 1230.00 L395.66 1228.33 L392.66 1237.56 L397.80 1239.22 L398.58 1238.43ZM596.95 1107.70 L604.65 1107.70 L604.65 1094.00 L605.65 1093.50 L605.65 1088.10 L595.95 1088.10 L595.95 1093.50 L596.95 1094.00ZM599.61 1104.04 L601.99 1111.36 L615.02 1107.13 L615.80 1107.92 L620.94 1106.26 L617.94 1097.03 L612.81 1098.70 L612.64 1099.80ZM603.79 1105.28 L597.81 1110.12 L606.93 1121.39 L606.47 1122.41 L609.87 1126.61 L617.41 1120.50 L614.01 1116.30 L612.92 1116.55ZM603.79 1110.12 L597.81 1105.28 L588.68 1116.55 L587.59 1116.30 L584.19 1120.50 L591.73 1126.61 L595.13 1122.41 L594.67 1121.39ZM599.61 1111.36 L601.99 1104.04 L588.96 1099.80 L588.79 1098.70 L583.66 1097.03 L580.66 1106.26 L585.80 1107.92 L586.58 1107.13ZM1408.15 893.90 L1415.85 893.90 L1415.85 880.20 L1416.85 879.70 L1416.85 874.30 L1407.15 874.30 L1407.15 879.70 L1408.15 880.20ZM1410.81 890.24 L1413.19 897.56 L1426.22 893.33 L1427.00 894.12 L1432.14 892.46 L1429.14 883.23 L1424.01 884.90 L1423.84 886.00ZM1414.99 891.48 L1409.01 896.32 L1418.13 907.59 L1417.67 908.61 L1421.07 912.81 L1428.61 906.70 L1425.21 902.50 L1424.12 902.75ZM1414.99 896.32 L1409.01 891.48 L1399.88 902.75 L1398.79 902.50 L1395.39 906.70 L1402.93 912.81 L1406.33 908.61 L1405.87 907.59ZM1410.81 897.56 L1413.19 890.24 L1400.16 886.00 L1399.99 884.90 L1394.86 883.23 L1391.86 892.46 L1397.00 894.12 L1397.78 893.33ZM1441.25 813.00 L1448.95 813.00 L1448.95 799.30 L1449.95 798.80 L1449.95 793.40 L1440.25 793.40 L1440.25 798.80 L1441.25 799.30ZM1443.91 809.34 L1446.29 816.66 L1459.32 812.43 L1460.10 813.22 L1465.24 811.56 L1462.24 802.33 L1457.11 804.00 L1456.94 805.10ZM1448.09 810.58 L1442.11 815.42 L1451.23 826.69 L1450.77 827.71 L1454.17 831.91 L1461.71 825.80 L1458.31 821.60 L1457.22 821.85ZM1448.09 815.42 L1442.11 810.58 L1432.98 821.85 L1431.89 821.60 L1428.49 825.80 L1436.03 831.91 L1439.43 827.71 L1438.97 826.69ZM1443.91 816.66 L1446.29 809.34 L1433.26 805.10 L1433.09 804.00 L1427.96 802.33 L1424.96 811.56 L1430.10 813.22 L1430.88 812.43Z" fill="#000"/>
<g fill="#000"><circle cx="389" cy="358.7" r="3.2"/><circle cx="432.7" cy="399.7" r="3.2"/><circle cx="1037" cy="212" r="3.2"/><circle cx="404" cy="1178" r="3.2"/><circle cx="412.8" cy="1239" r="3.2"/><circle cx="600.8" cy="1107.7" r="3.2"/><circle cx="1412" cy="893.9" r="3.2"/><circle cx="1445.1" cy="813" r="3.2"/></g>
<path d="M425 26 L407.3 1345" stroke="#808080" stroke-width="10.5" stroke-dasharray="11.3 8.11" stroke-dashoffset="0.2" fill="none"/>
<path d="M1715.3 26 L1697.3 1345" stroke="#808080" stroke-width="10.5" stroke-dasharray="11.3 8.11" stroke-dashoffset="15.51" fill="none"/>
</g>
<g font-family="Liberation Serif, Times New Roman, serif" font-weight="bold" font-size="56" fill="#000">
<text x="221.5" y="1432" text-anchor="middle">-20</text><text x="364.0" y="1432" text-anchor="middle">0</text><text x="506.6" y="1432" text-anchor="middle">20</text><text x="649.1" y="1432" text-anchor="middle">40</text><text x="791.7" y="1432" text-anchor="middle">60</text><text x="934.2" y="1432" text-anchor="middle">80</text><text x="1076.7" y="1432" text-anchor="middle">100</text><text x="1219.3" y="1432" text-anchor="middle">120</text><text x="1361.8" y="1432" text-anchor="middle">140</text><text x="1504.4" y="1432" text-anchor="middle">160</text><text x="1646.9" y="1432" text-anchor="middle">180</text><text x="1789.4" y="1432" text-anchor="middle">200</text><text x="178" y="1345.0" text-anchor="end">2</text><text x="178" y="1093.0" text-anchor="end">3</text><text x="178" y="841.0" text-anchor="end">4</text><text x="178" y="589.0" text-anchor="end">5</text><text x="178" y="337.0" text-anchor="end">6</text><text x="178" y="85.0" text-anchor="end">7</text>
</g>
<text font-family="Liberation Serif, Times New Roman, serif" font-weight="bold" font-size="70" x="780" y="1553">Temperature (<tspan font-size="46.5" dy="-27">o</tspan><tspan dy="27" dx="-1.5">C)</tspan></text>
<text font-family="Liberation Serif, Times New Roman, serif" font-weight="bold" font-size="70" transform="translate(73.5,904) rotate(-90)" textLength="488.5" lengthAdjust="spacing">Heat Flow (W/g)</text>
<text font-family="Liberation Serif, Times New Roman, serif" font-weight="bold" font-size="56" fill="#808080" x="220" y="1550">Exo Up</text>
<g stroke-width="11.5" stroke-linecap="round">
<path d="M822 326.7 H974" stroke="#FF0000"/>
<path d="M822 411.5 H974" stroke="#0000FF"/>
<path d="M822 496 H974" stroke="#008000"/>
<path d="M822 581.4 H974" stroke="#A000C8"/>
</g>
<g font-family="Liberation Serif, Times New Roman, serif" font-weight="bold" font-size="62">
<text x="995" y="350.6" fill="#FF0000">PNVP-<tspan font-style="italic">b</tspan>-PHMA <tspan dx="3">#1</tspan></text>
<text x="993" y="435.3" fill="#0000FF">PNVP-<tspan font-style="italic">b</tspan>-PHMA <tspan dx="3">#2</tspan></text>
<text x="993" y="520" fill="#008000">PNVP-<tspan font-style="italic">b</tspan>-PHMA <tspan dx="3">#3</tspan></text>
<text x="993" y="604.7" fill="#A000C8">PNVP-<tspan font-style="italic">b</tspan>-PHMA <tspan dx="3">#4</tspan></text>
</g>
<g fill="#808080" stroke="#808080" stroke-linejoin="round">
<path d="M490 1250.9 L464.5 1284.1" stroke-width="9.5" fill="none"/>
<path d="M455.3 1277.4 L473.8 1290.8 L435.2 1322.8Z" stroke-width="10"/>
<path d="M1607.2 1262.6 L1636.3 1291.8" stroke-width="10" fill="none"/>
<path d="M1645.1 1283 L1627.5 1300.5 L1669.4 1326.6Z" stroke-width="10"/>
</g>
<g font-family="Liberation Serif, Times New Roman, serif" font-weight="bold" font-size="56" fill="#808080">
<text x="496.2" y="1244"><tspan font-style="italic">T</tspan><tspan font-size="29.5" font-weight="normal" dx="-1.2" dy="-0.5">g</tspan><tspan dy="0.5">PHMA=5</tspan><tspan font-size="38" dy="-23">o</tspan><tspan dy="23">C</tspan></text>
<text x="1259.3" y="1234"><tspan font-style="italic">T</tspan><tspan font-size="29.5" font-weight="normal" dx="-1.2" dy="-0.5">g</tspan><tspan dy="0.5">PVP=187.1</tspan><tspan font-size="38" dy="-23">o</tspan><tspan dy="23">C</tspan></text>
</g>
</svg>
</body></html>
